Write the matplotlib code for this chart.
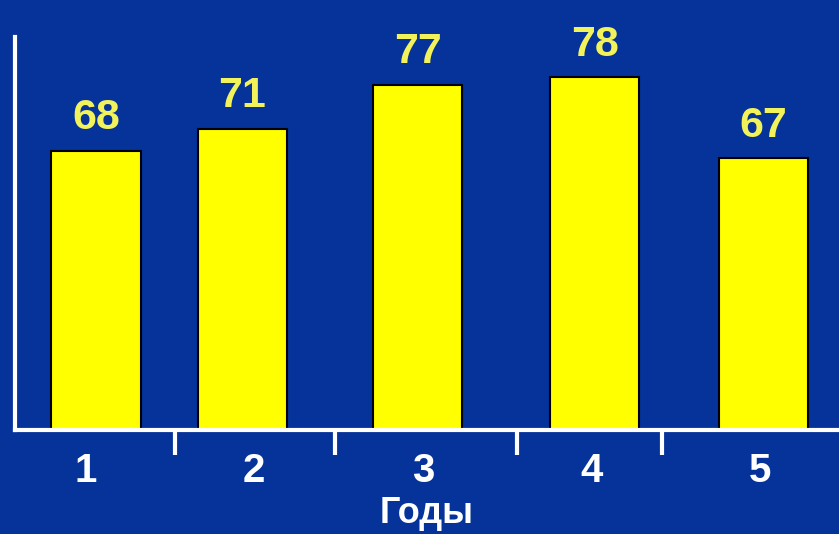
import numpy as np
import matplotlib.pyplot as plt

# Данные
years = ["1", "2", "3", "4", "5"]
values = [68, 71, 77, 78, 67]

bg = "#06339a"
plt.rcParams["font.family"] = ["Liberation Sans", "DejaVu Sans"]

fig = plt.figure(figsize=(8.39, 5.34), dpi=100, facecolor=bg)
ax = fig.add_axes([15 / 839, 104 / 534, 824 / 839, 393 / 534])
ax.set_facecolor(bg)

x = np.arange(len(years))
bar_x = [0.06, 0.93, 1.97, 3.02, 4.02]
bars = ax.bar(bar_x, values, width=0.53, color="#ffff00",
              edgecolor="black", linewidth=1.5, zorder=2)

ax.set_ylim(30, 83.5)
ax.set_xlim(-0.42, 4.47)

# Подписи значений над столбцами
for b, v in zip(bars, values):
    ax.annotate(str(v), (b.get_x() + b.get_width() / 2, v),
                xytext=(0, 9), textcoords="offset points",
                ha="center", va="bottom", fontsize=31, fontweight="bold",
                color="#f2f25a")

# Оси
for s in ["top", "right"]:
    ax.spines[s].set_visible(False)
for s in ["left", "bottom"]:
    ax.spines[s].set_color("white")
    ax.spines[s].set_linewidth(3)
ax.set_yticks([])

ax.set_xticks(x)
ax.set_xticklabels(years, fontsize=29, fontweight="bold", color="white")
ax.tick_params(axis="x", which="major", length=0, pad=16)
ax.set_xticks([0.53, 1.48, 2.56, 3.42], minor=True)
ax.tick_params(axis="x", which="minor", length=18, width=3, color="white",
               direction="out")

ax.set_xlabel("Годы", fontsize=26, fontweight="bold", color="white",
              labelpad=4)

fig.savefig("out.png", dpi=100, facecolor=bg)
